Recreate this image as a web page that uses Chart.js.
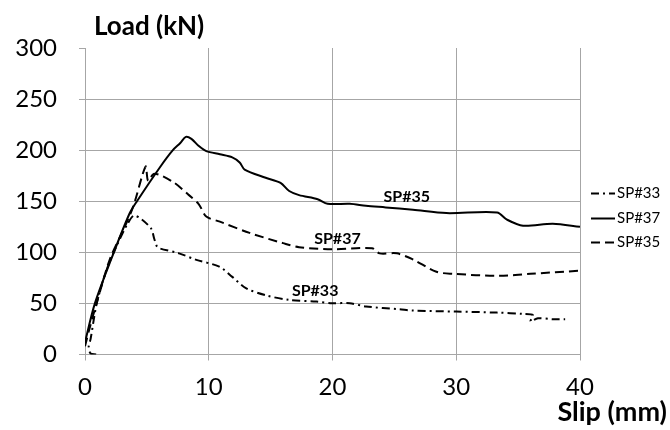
<!DOCTYPE html>
<html>
<head>
<meta charset="utf-8">
<script src="https://cdn.jsdelivr.net/npm/chart.js@4.4.1/dist/chart.umd.min.js"></script>
<style>
    html, body { margin: 0; padding: 0; background: #ffffff; }
    #wrap { width: 670px; height: 430px; }
</style>
</head>
<body>
<div id="wrap"><canvas id="slipChart" width="670" height="430"></canvas></div>
<script>
// ===== DATA =====
const xTicks = [0, 10, 20, 30, 40];
const yTicks = [0, 50, 100, 150, 200, 250, 300];

// dash-dot curve
const sp33Slip = [0.9, 0.45, 0.3, 0.45, 0.95, 1.75, 2.55, 3.4, 4.0, 5.3, 5.6, 5.8, 6.0, 7.6, 9.0, 10.85, 11.9, 13.0, 14.6, 16.5, 18.7, 20.0, 21.4, 22.7, 25.4, 26.5, 30.0, 33.3, 35.4, 36.2, 36.0, 36.6, 37.8, 38.8];
const sp33Load = [0, 1, 8, 15, 50, 83, 106, 127, 136, 124, 113, 106, 104, 99, 92.6, 86, 76, 65, 58, 53.4, 51.8, 50.2, 50.2, 47, 44.3, 43, 42, 41, 39.7, 38.5, 32.5, 35.5, 34.5, 34.5];

// solid curve
const sp37Slip = [0, 0.8, 2.3, 3.6, 4.2, 6.1, 7.1, 7.7, 8.15, 8.6, 9.2, 9.8, 10.9, 11.9, 12.5, 12.9, 14.6, 15.8, 16.5, 17.3, 18.8, 19.6, 21.4, 22.7, 24.3, 26.5, 29.2, 33.3, 34.1, 35.4, 37.8, 40];
const sp37Load = [12, 50, 99, 138, 150, 184, 200, 207, 213, 211, 204, 199, 196, 193, 188, 181, 173, 168, 160, 156, 152, 147.5, 147.5, 145.6, 144, 141.7, 138.4, 139, 132, 126, 128, 125];

// dashed curve
const sp35Slip = [0, 0.4, 1.1, 2.0, 3.1, 3.9, 4.9, 5.1, 5.6, 7.1, 8.4, 9.2, 9.8, 10.9, 13.3, 16.0, 17.3, 20.0, 23.2, 23.8, 25.2, 26.5, 28.4, 29.7, 33.5, 36.0, 40];
const sp35Load = [8, 27, 57, 93, 122, 145, 184, 170, 177, 169, 156, 147, 135, 130, 119, 109, 105, 103, 104, 99, 99, 93, 81, 79, 77, 79, 82];

// labels written next to the curves
const tagNames = ['SP#35', 'SP#37', 'SP#33'];
const tagSlip = [26.0, 20.4, 18.6];
const tagLoad = [154, 113, 62];

// ===== STYLE =====
const FONT = 'Lato, "Open Sans", sans-serif';
const GRID = '#a6a6a6';

function toPoints(xs, ys) {
    return xs.map((x, i) => ({ x: x, y: ys[i] }));
}

// ===== TEXT + LEGEND OVERLAY =====
const overlayPlugin = {
    id: 'overlay',
    afterDatasetsDraw(chart) {
        const { ctx, chartArea, scales } = chart;
        ctx.save();
        ctx.fillStyle = '#000';

        // tags next to the curves
        ctx.font = 'bold 16px ' + FONT;
        ctx.textAlign = 'center';
        ctx.textBaseline = 'middle';
        tagNames.forEach((t, i) => {
            ctx.fillText(t, scales.x.getPixelForValue(tagSlip[i]), scales.y.getPixelForValue(tagLoad[i]));
        });

        // axis titles
        ctx.font = 'bold 26px ' + FONT;
        ctx.textBaseline = 'alphabetic';
        ctx.textAlign = 'left';
        ctx.fillText('Load (kN)', chartArea.left + 9, chartArea.top - 13);
        ctx.font = 'bold 27px ' + FONT;
        ctx.textAlign = 'right';
        ctx.fillText('Slip (mm)', chartArea.right + 87, chartArea.bottom + 66);

        // legend
        ctx.font = '15px ' + FONT;
        ctx.textAlign = 'left';
        ctx.textBaseline = 'middle';
        chart.data.datasets.forEach((ds, i) => {
            const y = Math.round(chartArea.top + 145 + i * 24.5) + 0.5;
            const x0 = chartArea.right + 11;
            ctx.beginPath();
            ctx.setLineDash(ds.borderDash || []);
            ctx.lineWidth = ds.borderWidth;
            ctx.strokeStyle = ds.borderColor;
            ctx.moveTo(x0, y);
            ctx.lineTo(x0 + 24, y);
            ctx.stroke();
            ctx.fillText(ds.label, x0 + 26, y);
        });
        ctx.restore();
    }
};

// ===== CHART =====
function makeSet(label, xs, ys, dash) {
    return {
        label: label,
        data: toPoints(xs, ys),
        showLine: true,
        borderColor: '#000',
        backgroundColor: '#000',
        borderWidth: 2,
        borderDash: dash,
        pointRadius: 0,
        tension: 0.3,
        fill: false
    };
}

new Chart(document.getElementById('slipChart'), {
    type: 'scatter',
    data: {
        datasets: [
            makeSet('SP#33', sp33Slip, sp33Load, [8, 4, 2, 4]),
            makeSet('SP#37', sp37Slip, sp37Load, []),
            makeSet('SP#35', sp35Slip, sp35Load, [9, 5])
        ]
    },
    options: {
        responsive: false,
        animation: false,
        layout: { padding: { left: 0, top: 48, right: 90, bottom: 0 } },
        plugins: {
            legend: { display: false },
            tooltip: { enabled: false }
        },
        scales: {
            x: {
                type: 'linear',
                min: 0,
                max: 40,
                afterBuildTicks: s => { s.ticks = xTicks.map(v => ({ value: v })); },
                afterFit: s => { s.height = 75.5; },
                grid: { color: GRID, tickColor: GRID, tickLength: 6, lineWidth: 1 },
                border: { color: GRID, width: 1 },
                ticks: { color: '#000', padding: 12, font: { family: FONT, size: 24 } }
            },
            y: {
                min: 0,
                max: 300,
                afterBuildTicks: s => { s.ticks = yTicks.map(v => ({ value: v })); },
                afterFit: s => { s.width = 85; },
                grid: {
                    color: c => (c.tick && c.tick.value === 300 ? 'rgba(0,0,0,0)' : GRID),
                    tickColor: GRID,
                    tickLength: 6,
                    lineWidth: 1
                },
                border: { color: GRID, width: 1 },
                ticks: { color: '#000', padding: 22, font: { family: FONT, size: 24 } }
            }
        }
    },
    plugins: [overlayPlugin]
});
</script>
</body>
</html>
